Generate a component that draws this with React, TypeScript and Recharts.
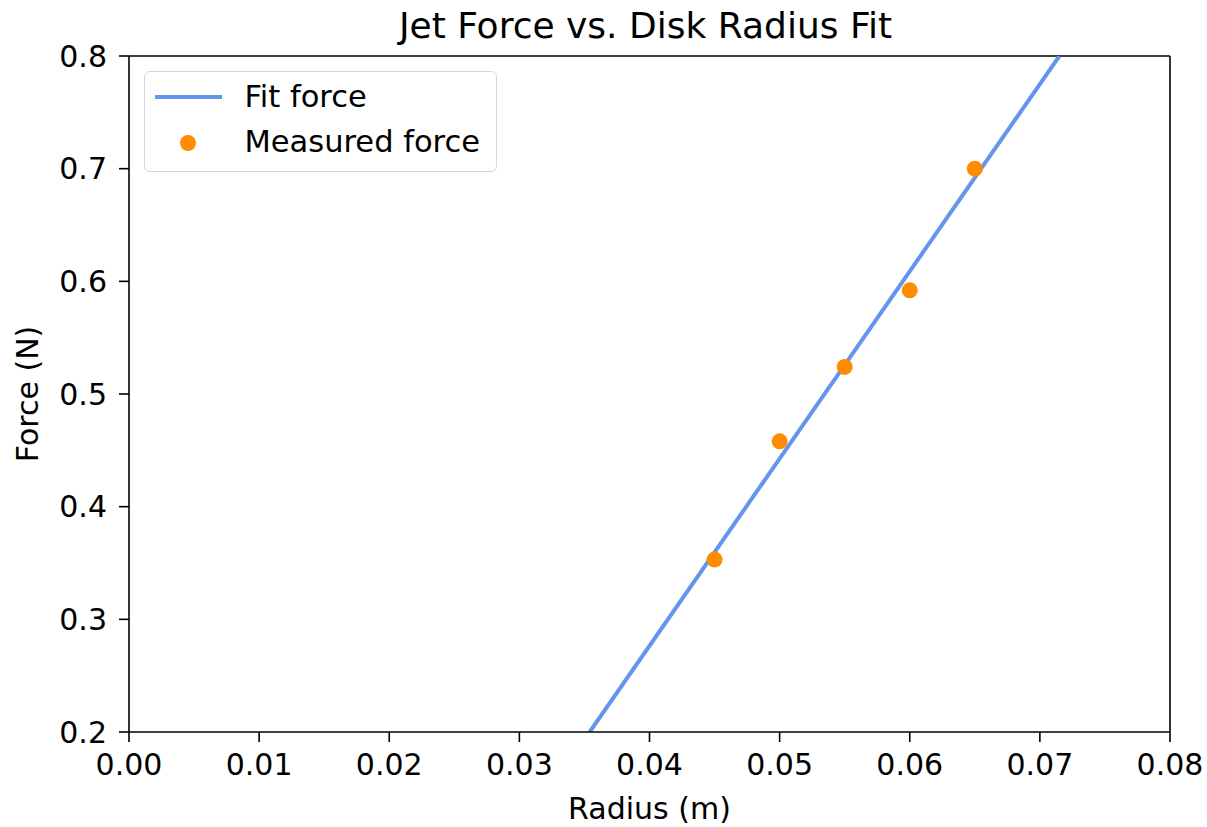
import { ComposedChart, XAxis, YAxis, Line, Scatter, ReferenceLine } from 'recharts';

const radius = [0.045, 0.05, 0.055, 0.06, 0.065];
const measuredForce = [0.353, 0.458, 0.524, 0.592, 0.7];
const fitRadius = [0.0354, 0.0715];
const fitForce = [0.2, 0.8];
const xTicks = [0, 0.01, 0.02, 0.03, 0.04, 0.05, 0.06, 0.07, 0.08];
const yTicks = [0.2, 0.3, 0.4, 0.5, 0.6, 0.7, 0.8];

const FONT = 'DejaVu Sans, sans-serif';
const FIT_COLOR = '#6495ed';
const DOT_COLOR = '#ff8c00';

const measured = radius.map((x, i) => ({ x, y: measuredForce[i] }));
const fit = fitRadius.map((x, i) => ({ x, y: fitForce[i] }));

function LegendBox() {
  return (
    <div
      style={{
        position: 'absolute',
        left: 144,
        top: 71,
        width: 353,
        height: 101,
        border: '1.5px solid #d6d6d6',
        borderRadius: 6,
        background: 'rgba(255,255,255,0.8)',
        fontFamily: FONT,
        fontSize: 30.5,
        lineHeight: '30px',
        color: '#000',
        boxSizing: 'border-box',
      }}
    >
      <div style={{ position: 'absolute', left: 9.5, top: 22.5, width: 67, height: 4, background: FIT_COLOR }} />
      <div style={{ position: 'absolute', left: 99.5, top: 10, whiteSpace: 'nowrap' }}>Fit force</div>
      <div style={{ position: 'absolute', left: 34.5, top: 62.5, width: 16, height: 16, borderRadius: '50%', background: DOT_COLOR }} />
      <div style={{ position: 'absolute', left: 99.5, top: 55, whiteSpace: 'nowrap' }}>Measured force</div>
    </div>
  );
}

export default function App() {
  return (
    <div style={{ position: 'absolute', left: 0, top: 0, width: 1207, height: 827, background: '#fff' }}>
      <div
        style={{
          position: 'absolute',
          left: 125,
          width: 1041,
          top: 5,
          textAlign: 'center',
          fontFamily: FONT,
          fontSize: 36,
          lineHeight: 'normal',
          color: '#000',
        }}
      >
        Jet Force vs. Disk Radius Fit
      </div>
      <ComposedChart width={1207} height={827} margin={{ top: 56, right: 37, bottom: 0, left: 0 }}>
        <XAxis
          type="number"
          dataKey="x"
          domain={[0, 0.08]}
          ticks={xTicks}
          allowDataOverflow
          tickFormatter={(v: number) => v.toFixed(2)}
          tick={{ fontSize: 30, fill: '#000', fontFamily: FONT }}
          tickSize={10}
          tickMargin={12}
          stroke="#000"
          strokeWidth={1.6}
          height={95}
          label={{ value: 'Radius (m)', position: 'insideBottom', offset: 8, fontSize: 30, fill: '#000', fontFamily: FONT }}
        />
        <YAxis
          type="number"
          dataKey="y"
          domain={[0.2, 0.8]}
          ticks={yTicks}
          allowDataOverflow
          tickFormatter={(v: number) => v.toFixed(1)}
          tick={{ fontSize: 30, fill: '#000', fontFamily: FONT }}
          tickSize={10}
          tickMargin={12}
          stroke="#000"
          strokeWidth={1.6}
          width={129}
          label={{ value: 'Force (N)', angle: -90, position: 'insideLeft', offset: 27, fontSize: 30, fill: '#000', fontFamily: FONT, style: { textAnchor: 'middle' } }}
        />
        <ReferenceLine y={0.8} stroke="#000" strokeWidth={1.6} />
        <ReferenceLine x={0.08} stroke="#000" strokeWidth={1.6} />
        <Line
          data={fit}
          dataKey="y"
          name="Fit force"
          stroke={FIT_COLOR}
          strokeWidth={4}
          dot={false}
          activeDot={false}
          isAnimationActive={false}
        />
        <Scatter
          data={measured}
          dataKey="y"
          name="Measured force"
          fill={DOT_COLOR}
          shape={(p: any) => <circle cx={p.cx} cy={p.cy} r={8} fill={DOT_COLOR} />}
          isAnimationActive={false}
        />
      </ComposedChart>
      <LegendBox />
    </div>
  );
}
